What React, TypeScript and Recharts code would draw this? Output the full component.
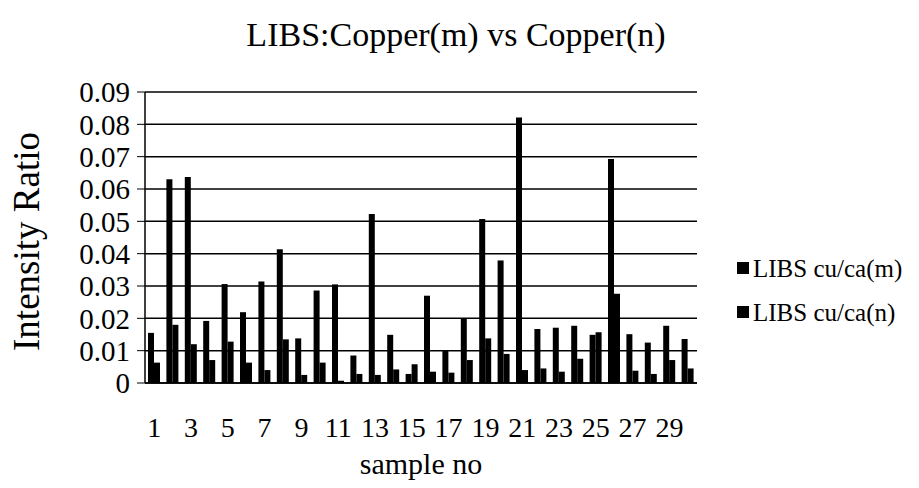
import { Bar, BarChart, CartesianGrid, Label, XAxis, YAxis } from 'recharts';

const FONT = '"Liberation Serif", "Times New Roman", serif';
const INK = '#000000';

const SAMPLES = [
  '1', '2', '3', '4', '5', '6', '7', '8', '9', '10',
  '11', '12', '13', '14', '15', '16', '17', '18', '19', '20',
  '21', '22', '23', '24', '25', '26', '27', '28', '29', '30',
];
const CU_CA_M = [
  0.0155, 0.063, 0.0637, 0.0192, 0.0306, 0.0219, 0.0314, 0.0414, 0.0138, 0.0286,
  0.0305, 0.0085, 0.0523, 0.0149, 0.0028, 0.027, 0.0099, 0.02, 0.0507, 0.0379,
  0.0821, 0.0167, 0.0171, 0.0177, 0.0149, 0.0693, 0.0151, 0.0125, 0.0177, 0.0136,
];
const CU_CA_N = [
  0.0063, 0.018, 0.012, 0.0071, 0.0128, 0.0063, 0.004, 0.0135, 0.0025, 0.0063,
  0.0007, 0.0028, 0.0025, 0.0042, 0.0058, 0.0035, 0.0032, 0.0071, 0.0138, 0.009,
  0.004, 0.0045, 0.0035, 0.0075, 0.0157, 0.0276, 0.0038, 0.0028, 0.0071, 0.0045,
];
const SERIES_NAMES = ['LIBS cu/ca(m)', 'LIBS cu/ca(n)'];
const Y_TICKS = [0, 0.01, 0.02, 0.03, 0.04, 0.05, 0.06, 0.07, 0.08, 0.09];

const rows = SAMPLES.map((sample, i) => ({ sample, m: CU_CA_M[i], n: CU_CA_N[i] }));

function formatTick(v: number): string {
  return v === 0 ? '0' : v.toFixed(2);
}

// legend drawn as svg next to the plot
function SideLegend() {
  return (
    <svg width={190} height={100} style={{ position: 'absolute', left: 729, top: 240 }}>
      {SERIES_NAMES.map((name, i) => (
        <g key={name} transform={`translate(8, ${28 + i * 44})`}>
          <rect x={0} y={-6} width={12} height={12} fill={INK} />
          <text x={16} y={0} dy="0.35em" fontFamily={FONT} fontSize={25} fill={INK}>
            {name}
          </text>
        </g>
      ))}
    </svg>
  );
}

export default function App() {
  return (
    <div style={{ position: 'absolute', left: 0, top: 0, width: 919, height: 488, background: '#fff' }}>
      <div
        style={{
          position: 'absolute',
          left: 0,
          top: 16,
          width: 912,
          textAlign: 'center',
          fontFamily: FONT,
          fontSize: 34,
          color: INK,
        }}
      >
        LIBS:Copper(m) vs Copper(n)
      </div>
      <BarChart
        width={919}
        height={488}
        data={rows}
        margin={{ top: 92, right: 222, bottom: 0, left: 0 }}
        barGap={0}
        barSize={6}
      >
        <CartesianGrid vertical={false} stroke={INK} strokeWidth={1.5} />
        <XAxis
          dataKey="sample"
          interval={1}
          height={105}
          tickLine={false}
          axisLine={{ stroke: INK, strokeWidth: 1.5 }}
          tickMargin={28}
          tick={{ fontFamily: FONT, fontSize: 28, fill: INK }}
        >
          <Label
            value="sample no"
            position="insideBottom"
            offset={14}
            style={{ fontFamily: FONT, fontSize: 30, fill: INK }}
          />
        </XAxis>
        <YAxis
          width={145}
          domain={[0, 0.09]}
          ticks={Y_TICKS}
          interval={0}
          tickFormatter={formatTick}
          tickSize={8}
          tickMargin={7}
          tickLine={{ stroke: INK }}
          axisLine={{ stroke: INK, strokeWidth: 1.5 }}
          tick={{ fontFamily: FONT, fontSize: 29, fill: INK }}
        >
          <Label
            value="Intensity Ratio"
            angle={-90}
            position="center"
            dx={-47}
            dy={4}
            style={{ fontFamily: FONT, fontSize: 37, fill: INK }}
          />
        </YAxis>
        <Bar dataKey="m" name={SERIES_NAMES[0]} fill={INK} isAnimationActive={false} />
        <Bar dataKey="n" name={SERIES_NAMES[1]} fill={INK} isAnimationActive={false} />
      </BarChart>
      <SideLegend />
    </div>
  );
}
